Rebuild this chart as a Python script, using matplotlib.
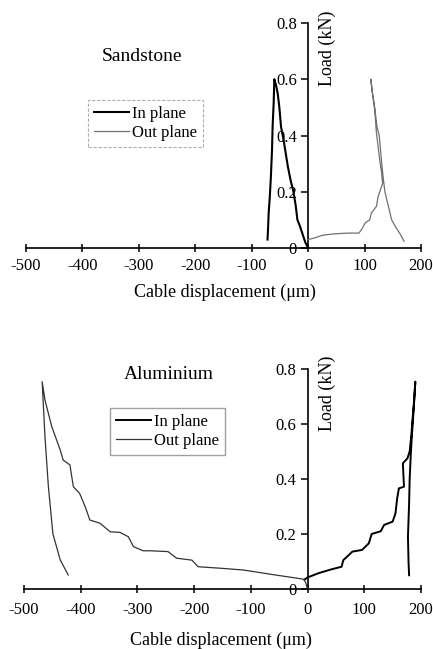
import matplotlib
matplotlib.use("Agg")
import matplotlib.pyplot as plt

plt.rcParams['font.family'] = ['Liberation Serif', 'DejaVu Serif']
plt.rcParams['axes.unicode_minus'] = False

# ---- data ----
x_ticks = [-500, -400, -300, -200, -100, 0, 100, 200]
y_ticks = [0, 0.2, 0.4, 0.6, 0.8]
y_tick_labels = ["0", "0.2", "0.4", "0.6", "0.8"]

sand_in_x = [0, -5, -10, -15, -19, -22, -26, -31, -36, -40, -44, -48, -51, -54, -57, -60,
             -61, -63, -64, -66, -68, -70, -71, -72]
sand_in_y = [0, 0.02, 0.05, 0.08, 0.1, 0.15, 0.2, 0.24, 0.29, 0.34, 0.39, 0.43, 0.5, 0.55, 0.58, 0.6,
             0.52, 0.43, 0.35, 0.254, 0.18, 0.124, 0.07, 0.03]

sand_out_x = [0, 10, 25, 44, 70, 90, 96, 101, 109, 112, 121, 124, 132, 130, 127, 124, 121,
              118, 114, 111, 114, 118, 122, 126, 130, 133, 136, 142, 148, 155, 163, 170]
sand_out_y = [0.03, 0.035, 0.045, 0.05, 0.053, 0.053, 0.07, 0.089, 0.1, 0.124, 0.148, 0.183, 0.23,
              0.27, 0.31, 0.36, 0.41, 0.49, 0.55, 0.6, 0.55, 0.5, 0.43, 0.4, 0.31, 0.25, 0.2, 0.15,
              0.1, 0.075, 0.05, 0.024]

al_in_x = [-5, 0, 20, 43, 60, 63, 73, 79, 96, 108, 113, 129, 135, 150, 155, 158, 161, 170,
           168, 176, 180, 183, 185, 188, 190, 187, 184, 182, 180, 179, 177, 178, 179]
al_in_y = [0.035, 0.042, 0.058, 0.072, 0.081, 0.105, 0.124, 0.136, 0.142, 0.166, 0.2, 0.21,
           0.233, 0.245, 0.275, 0.33, 0.366, 0.372, 0.457, 0.475, 0.5, 0.56, 0.615, 0.69, 0.754,
           0.65, 0.56, 0.49, 0.4, 0.31, 0.19, 0.1, 0.05]

al_out_x = [0, -4, -8, -60, -113, -150, -193, -204, -231, -246, -278, -290, -307, -316, -331,
            -348, -366, -384, -392, -402, -413, -419, -431, -436, -451, -463, -468,
            -463, -457, -449, -436, -422]
al_out_y = [0, 0.027, 0.036, 0.052, 0.069, 0.075, 0.081, 0.105, 0.112, 0.136, 0.139, 0.139,
            0.154, 0.19, 0.206, 0.208, 0.239, 0.251, 0.299, 0.348, 0.372, 0.451, 0.469, 0.505,
            0.59, 0.687, 0.754, 0.553, 0.372, 0.2, 0.105, 0.051]

W, H = 433, 649
fig = plt.figure(figsize=(W / 100, H / 100), dpi=100)


def px_axes(x0, x1, y_bot, y_top):
    return fig.add_axes([x0 / W, 1 - y_bot / H, (x1 - x0) / W, (y_bot - y_top) / H])


def style(ax, xpad):
    ax.set_xlim(-500, 200)
    ax.set_ylim(0, 0.8)
    for s in ['top', 'right']:
        ax.spines[s].set_visible(False)
    ax.spines['left'].set_position(('data', 0))
    ax.spines['left'].set_linewidth(1.2)
    ax.spines['bottom'].set_linewidth(1.2)
    ax.set_xticks(x_ticks)
    ax.set_yticks(y_ticks)
    ax.set_yticklabels(y_tick_labels)
    ax.tick_params(axis='x', direction='inout', length=6, width=1.1, pad=xpad, labelsize=12)
    ax.tick_params(axis='y', direction='out', length=5, width=1.1, pad=3, labelsize=12)
    ax.patch.set_alpha(0)


# ---- top: Sandstone ----
ax1 = px_axes(26, 421, 248, 23)
style(ax1, 4)
ax1.plot(sand_in_x, sand_in_y, color='black', lw=1.5, label='In plane', zorder=3)
ax1.plot(sand_out_x, sand_out_y, color='#707070', lw=0.9, label='Out plane', zorder=3)
ax1.text(0.294, 0.849, 'Sandstone', transform=ax1.transAxes, ha='center', va='center', fontsize=14)
ax1.text(0.762, 0.889, 'Load (kN)', transform=ax1.transAxes, ha='center', va='center',
         rotation=90, fontsize=13)
leg1 = ax1.legend(loc='upper left', bbox_to_anchor=(0.157, 0.658), fontsize=12, frameon=True,
                  fancybox=False, handlelength=2.1, handletextpad=0.2, borderpad=0.35,
                  labelspacing=0.2, borderaxespad=0)
leg1.get_frame().set_edgecolor('#999999')
leg1.get_frame().set_linewidth(0.8)
leg1.get_frame().set_linestyle((0, (3, 1.5)))
fig.text(225 / W, 1 - 292 / H, 'Cable displacement (μm)', ha='center', va='center', fontsize=13)

# ---- bottom: Aluminium ----
ax2 = px_axes(24, 421, 589, 369)
style(ax2, 6)
ax2.plot(al_in_x, al_in_y, color='black', lw=1.4, label='In plane', zorder=3)
ax2.plot(al_out_x, al_out_y, color='#333333', lw=0.9, label='Out plane', zorder=3)
ax2.text(0.365, 0.973, 'Aluminium', transform=ax2.transAxes, ha='center', va='center', fontsize=14)
ax2.text(0.763, 0.891, 'Load (kN)', transform=ax2.transAxes, ha='center', va='center',
         rotation=90, fontsize=13)
leg2 = ax2.legend(loc='upper left', bbox_to_anchor=(0.217, 0.823), fontsize=12, frameon=True,
                  fancybox=False, handlelength=2.1, handletextpad=0.2, borderpad=0.35,
                  labelspacing=0.2, borderaxespad=0)
leg2.get_frame().set_edgecolor('#888888')
leg2.get_frame().set_linewidth(1.0)
fig.text(221 / W, 1 - 640 / H, 'Cable displacement (μm)', ha='center', va='center', fontsize=13)

fig.savefig('out.png', dpi=100)
